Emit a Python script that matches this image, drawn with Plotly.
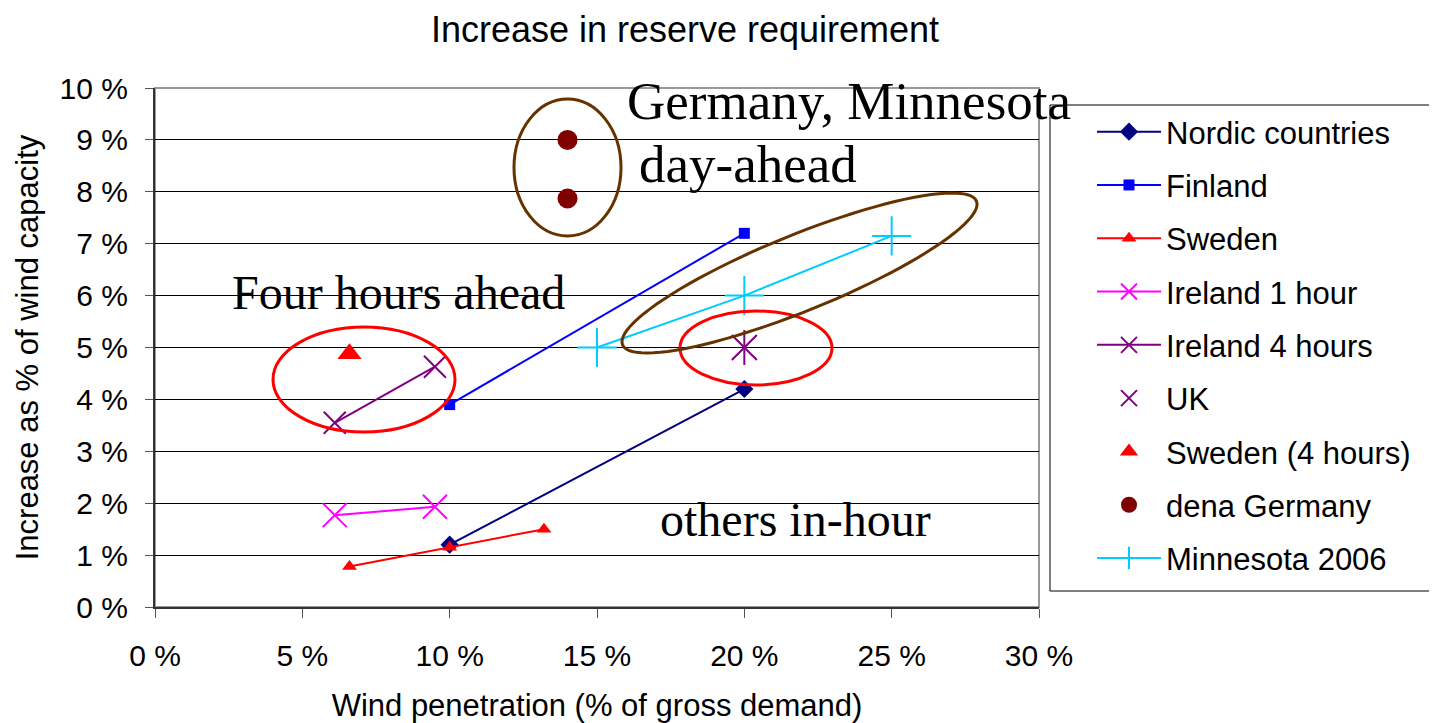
import math
import plotly.graph_objects as go

# ---------------- data ----------------
nordic_x = [10, 20]
nordic_y = [1.2, 4.2]
finland_x = [10, 20]
finland_y = [3.9, 7.2]
sweden_x = [6.6, 10, 13.2]
sweden_y = [0.78, 1.15, 1.5]
ireland1_x = [6.1, 9.5]
ireland1_y = [1.77, 1.93]
ireland4_x = [6.1, 9.5]
ireland4_y = [3.55, 4.63]
uk_x = [20]
uk_y = [5.0]
sweden4_x = [6.6]
sweden4_y = [4.88]
dena_x = [14, 14]
dena_y = [9.0, 7.87]
minn_x = [15, 20, 25]
minn_y = [5.0, 6.0, 7.15]

x_ticks = [0, 5, 10, 15, 20, 25, 30]
x_ticktext = ["0 %", "5 %", "10 %", "15 %", "20 %", "25 %", "30 %"]
y_ticks = list(range(0, 11))
y_ticktext = [f"{v} %" for v in y_ticks]

# ---------------- layout geometry (screen pixels) ----------------
OFF = 8                      # default page body margin
SW, SH = 1437, 723           # screen size
W, H = SW - OFF, SH - OFF    # figure size
L, R, T, B = 155, 1039, 88, 607   # plot area in screen pixels
XMAX, YMAX = 30, 10


def px2x(p):
    return (p - L) / (R - L) * XMAX


def py2y(p):
    return (B - p) / (B - T) * YMAX


def px2paper(p):
    return (p - L) / (R - L)


def py2paper(p):
    return (B - p) / (B - T)


SANS = "Liberation Sans, Arial, sans-serif"
SERIF = "Liberation Serif, Times New Roman, serif"

fig = go.Figure()


def add(name, x, y, color, symbol, size, mode="lines+markers", mline=0, showlegend=True):
    fig.add_trace(go.Scatter(
        x=x, y=y, name=name, mode=mode,
        line=dict(color=color, width=2),
        marker=dict(color=color, symbol=symbol, size=size,
                    line=dict(color=color, width=mline)),
        legendgroup=name, showlegend=showlegend, cliponaxis=False,
    ))


add("Nordic countries", nordic_x, nordic_y, "#000080", "diamond", 14)
add("Finland", finland_x, finland_y, "#0000FF", "square", 11)
add("Sweden", sweden_x, sweden_y, "#FF0000", "triangle-up", 13)
add("Ireland 1 hour", ireland1_x, ireland1_y, "#FF00FF", "x-thin-open", 24, mline=2)
add("Ireland 4 hours", ireland4_x, ireland4_y, "#800080", "x-thin-open", 22, mline=2)
add("UK", uk_x, uk_y, "#800080", "x-thin-open", 25, mode="markers", mline=2)
add("UK", uk_x, uk_y, "#800080", "line-ns-open", 25, mode="markers", mline=2, showlegend=False)
add("Sweden (4 hours)", sweden4_x, sweden4_y, "#FF0000", "triangle-up", 21, mode="markers")
add("dena Germany", dena_x, dena_y, "#800000", "circle", 20, mode="markers")
add("Minnesota 2006", minn_x, minn_y, "#00CCFF", "cross-thin-open", 28, mline=2)

# ---------------- shapes ----------------
shapes = []
# plot border
shapes.append(dict(type="rect", xref="paper", yref="paper", x0=0, x1=1, y0=0, y1=1,
                   line=dict(color="#999999", width=2), layer="below"))
# legend box
shapes.append(dict(type="rect", xref="paper", yref="paper",
                   x0=px2paper(1050), x1=px2paper(1460), y0=py2paper(591), y1=py2paper(105),
                   line=dict(color="black", width=1), layer="below"))

ellipses = [
    # (left px, right px, top px, bottom px, colour)
    (273, 455, 327, 432, "#FF0000"),
    (680, 832, 311, 385, "#FF0000"),
    (514, 621, 99, 236, "#663300"),
]
for l, r, t, b, c in ellipses:
    shapes.append(dict(type="circle", xref="x", yref="y",
                       x0=px2x(l), x1=px2x(r), y0=py2y(b), y1=py2y(t),
                       line=dict(color=c, width=3)))

# rotated ellipse (pixel-space parameters)
cx, cy, a, b, th = 799.5, 273, 191, 38, math.radians(22.1)
pts = []
for i in range(97):
    t = 2 * math.pi * i / 96
    px = cx + a * math.cos(t) * math.cos(th) - b * math.sin(t) * math.sin(th)
    py = cy - (a * math.cos(t) * math.sin(th) + b * math.sin(t) * math.cos(th))
    pts.append((px2x(px), py2y(py)))
path = "M " + " L ".join(f"{x:.4f},{y:.4f}" for x, y in pts) + " Z"
shapes.append(dict(type="path", xref="x", yref="y", path=path,
                   line=dict(color="#663300", width=3)))

# ---------------- text annotations ----------------
texts = [
    ("Germany, Minnesota", 849, 101, 53),
    ("day-ahead", 748, 164, 53),
    ("Four hours ahead", 398, 292, 48),
    ("others in-hour", 795, 519, 48),
]
annotations = []
for txt, xp, yp, fs in texts:
    annotations.append(dict(text=txt, x=px2x(xp), y=py2y(yp), xref="x", yref="y",
                            showarrow=False, xanchor="center", yanchor="middle",
                            font=dict(family=SERIF, size=fs, color="black")))

fig.update_layout(
    width=W, height=H,
    margin=dict(l=L - OFF, r=W - (R - OFF), t=T - OFF, b=H - (B - OFF), pad=0),
    paper_bgcolor="white", plot_bgcolor="white",
    title=dict(text="Increase in reserve requirement", x=(685 - OFF) / W, xanchor="center",
               y=1 - (29 - OFF) / H, yanchor="middle", yref="container",
               font=dict(family=SANS, size=36, color="black")),
    xaxis=dict(range=[0, XMAX], tickvals=x_ticks, ticktext=x_ticktext, automargin=False,
               showgrid=False, zeroline=False, showline=True, linecolor="#333333", linewidth=2,
               ticks="outside", ticklen=9, tickcolor="#555555", tickwidth=1,
               tickfont=dict(family=SANS, size=30, color="black"),
               ticklabelstandoff=12,
               title=dict(text="Wind penetration (% of gross demand)", standoff=24,
                          font=dict(family=SANS, size=31, color="black"))),
    yaxis=dict(range=[0, YMAX], tickvals=y_ticks, ticktext=y_ticktext, automargin=False,
               showgrid=True, gridcolor="black", gridwidth=1, zeroline=False,
               showline=True, linecolor="#333333", linewidth=2,
               ticks="outside", ticklen=8, tickcolor="#555555", tickwidth=1,
               tickfont=dict(family=SANS, size=30, color="black"),
               ticklabelstandoff=11,
               title=dict(text="Increase as % of wind capacity", standoff=12,
                          font=dict(family=SANS, size=31, color="black"))),
    legend=dict(x=px2paper(1092), xanchor="left", y=py2paper(105), yanchor="top",
                borderwidth=0, bgcolor="rgba(0,0,0,0)",
                font=dict(family=SANS, size=31, color="black"),
                tracegroupgap=10, itemwidth=64),
    shapes=shapes,
    annotations=annotations,
    showlegend=True,
)

fig.write_html("out.html")
